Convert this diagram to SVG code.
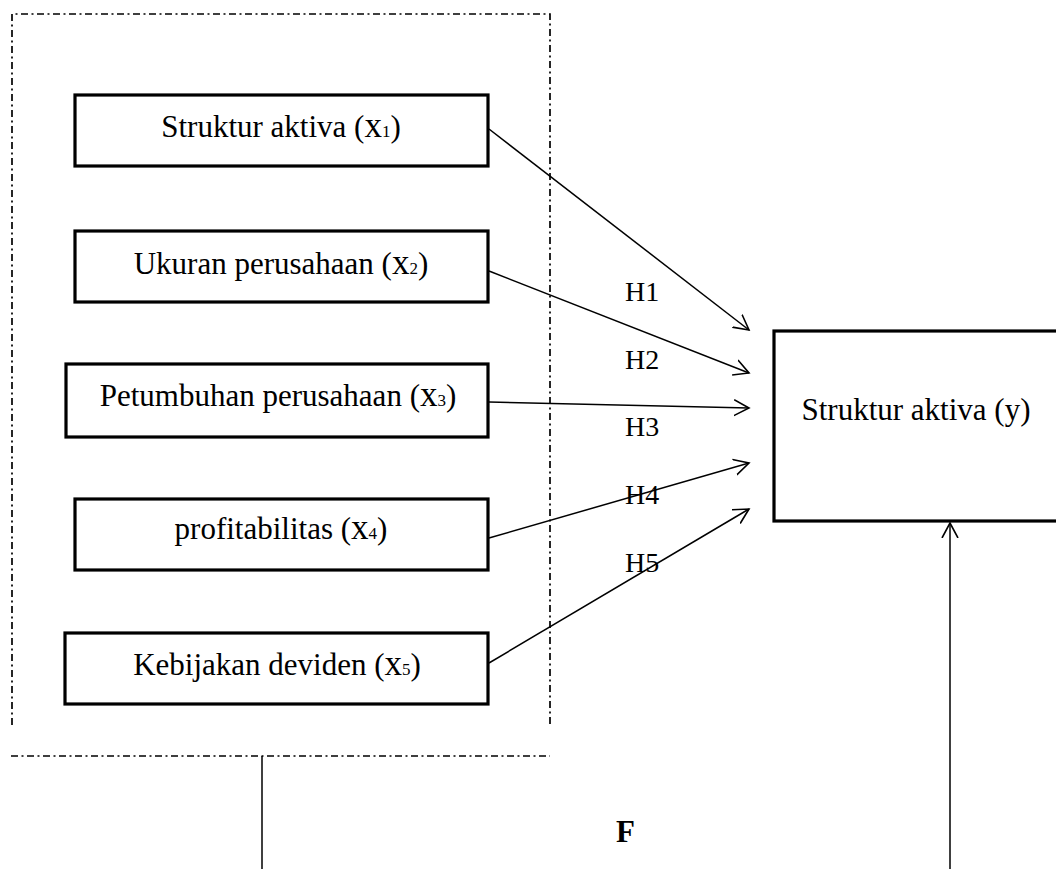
<svg xmlns="http://www.w3.org/2000/svg" width="1056" height="869" viewBox="0 0 1056 869">
<style>
.box{fill:#fff;stroke:#000;stroke-width:3.2}
.lbl{font-family:"Liberation Serif","Times New Roman",serif;font-size:31px;fill:#000;text-anchor:middle}
.xv{font-size:35px}
.sub{font-size:17px}
.h{font-family:"Liberation Serif","Times New Roman",serif;font-size:28px;fill:#000}
.frame{fill:none;stroke:#000;stroke-width:1.7;stroke-dasharray:7 3.5 2 3.5}
.conn{fill:none;stroke:#000;stroke-width:1.5}
</style>
<defs>
<marker id="arr" markerUnits="userSpaceOnUse" markerWidth="20" markerHeight="20" refX="15" refY="8" orient="auto" viewBox="0 0 20 16">
<path d="M0,0 L15,8 L0,16" fill="none" stroke="#000" stroke-width="1.6"/>
</marker>
</defs>
<g id="frame">
<path class="frame" d="M12,725 L12,14 L550,14 L550,725"/>
<path class="frame" d="M11,756 L550,756"/>
</g>
<g id="connectors">
<line class="conn" x1="489" y1="129" x2="749" y2="330" marker-end="url(#arr)"/>
<line class="conn" x1="489" y1="271" x2="749" y2="373" marker-end="url(#arr)"/>
<line class="conn" x1="489" y1="402" x2="749" y2="408" marker-end="url(#arr)"/>
<line class="conn" x1="489" y1="538" x2="749" y2="463" marker-end="url(#arr)"/>
<line class="conn" x1="489" y1="663" x2="749" y2="509" marker-end="url(#arr)"/>
<line class="conn" x1="262" y1="756" x2="262" y2="869"/>
<line class="conn" x1="950" y1="869" x2="950" y2="523" marker-end="url(#arr)"/>
<text class="h" x="625" y="301">H1</text>
<text class="h" x="625" y="369">H2</text>
<text class="h" x="625" y="436">H3</text>
<text class="h" x="625" y="504">H4</text>
<text class="h" x="625" y="572">H5</text>
</g>
<g id="x1">
<rect class="box" x="75" y="95" width="413" height="71"/>
<text class="lbl" x="281" y="137">Struktur aktiva (<tspan class="xv">x</tspan><tspan class="sub">1</tspan>)</text>
</g>
<g id="x2">
<rect class="box" x="75" y="231" width="413" height="71"/>
<text class="lbl" x="281" y="274">Ukuran perusahaan (<tspan class="xv">x</tspan><tspan class="sub">2</tspan>)</text>
</g>
<g id="x3">
<rect class="box" x="66" y="364" width="422" height="73"/>
<text class="lbl" x="278" y="406">Petumbuhan perusahaan (<tspan class="xv">x</tspan><tspan class="sub">3</tspan>)</text>
</g>
<g id="x4">
<rect class="box" x="75" y="499" width="413" height="71"/>
<text class="lbl" x="281" y="539">profitabilitas (<tspan class="xv">x</tspan><tspan class="sub">4</tspan>)</text>
</g>
<g id="x5">
<rect class="box" x="65" y="633" width="423" height="71"/>
<text class="lbl" x="277" y="675">Kebijakan deviden (<tspan class="xv">x</tspan><tspan class="sub">5</tspan>)</text>
</g>
<g id="y">
<rect class="box" x="774" y="331" width="290" height="190"/>
<text class="lbl" x="916" y="420">Struktur aktiva (y)</text>
</g>
<g id="f">
<text x="616" y="842" style="font-family:'Liberation Serif','Times New Roman',serif;font-size:31px;font-weight:bold">F</text>
</g>
</svg>
